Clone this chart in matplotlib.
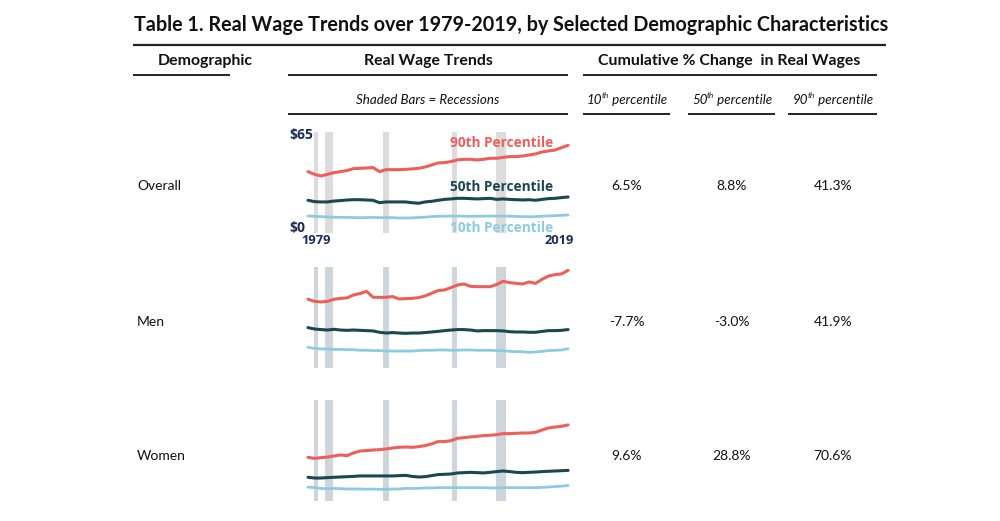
import matplotlib
matplotlib.use("Agg")
import matplotlib.pyplot as plt
import numpy as np

# ---------------- data ----------------
years = list(range(1979, 2020))

overall_p90 = [38.9, 37.1, 36.0, 37.1, 38.2, 38.9, 39.6, 40.9, 41.1, 41.3, 41.6,
               38.9, 40.2, 40.2, 40.2, 40.4, 40.7, 41.1, 42.0, 43.3, 44.7,
               44.9, 45.6, 46.7, 47.1, 47.1, 46.7, 47.1, 47.8, 47.8, 48.4,
               48.9, 48.9, 49.3, 50.0, 50.7, 52.0, 52.7, 53.3, 54.9, 56.4]
overall_p50 = [19.8, 18.9, 18.7, 18.7, 19.3, 19.6, 20.0, 20.2, 20.2, 20.0, 19.8,
               18.2, 18.7, 18.7, 18.7, 18.7, 18.2, 17.8, 18.7, 19.1, 19.8,
               20.4, 20.7, 21.1, 21.1, 20.9, 20.7, 20.9, 21.1, 20.4, 20.7,
               20.4, 20.2, 20.0, 20.2, 19.8, 20.4, 20.9, 21.1, 21.6, 22.0]
overall_p10 = [9.3, 9.1, 8.9, 8.7, 8.5, 8.4, 8.4, 8.3, 8.2, 8.3, 8.4,
               8.2, 8.3, 8.2, 8.0, 8.0, 8.1, 8.3, 8.6, 8.9, 9.1,
               9.2, 9.3, 9.3, 9.2, 9.1, 9.2, 9.2, 9.3, 9.2, 9.3,
               9.2, 9.0, 8.9, 8.8, 8.9, 9.2, 9.4, 9.6, 9.8, 10.0]

men_p90 = [43.8, 42.4, 42.0, 42.4, 43.8, 44.4, 44.7, 46.7, 47.6, 49.1, 45.1,
           45.1, 45.1, 45.6, 44.0, 44.2, 44.4, 44.9, 46.0, 47.8, 49.6,
           50.0, 51.6, 53.3, 54.0, 52.4, 52.2, 52.2, 52.2, 53.6, 55.8,
           54.9, 54.4, 54.0, 55.3, 54.4, 57.1, 59.3, 60.2, 60.7, 63.1]
men_p50 = [24.9, 24.0, 23.6, 23.3, 23.8, 23.3, 23.1, 23.3, 23.1, 22.9, 22.7,
           21.8, 21.3, 21.6, 21.3, 21.1, 21.3, 21.3, 21.6, 22.0, 22.4,
           22.9, 23.3, 23.6, 23.6, 23.3, 22.7, 22.9, 22.9, 22.9, 22.7,
           22.2, 22.0, 22.0, 21.8, 21.8, 22.4, 22.9, 22.9, 23.1, 23.6]
men_p10 = [11.8, 11.1, 10.7, 10.7, 10.4, 10.4, 10.2, 10.2, 9.8, 9.8, 9.6,
           9.6, 9.3, 9.3, 9.3, 9.3, 9.3, 9.6, 9.8, 9.8, 10.0,
           10.0, 9.8, 9.8, 10.0, 10.0, 9.8, 9.8, 9.8, 9.6, 9.6,
           9.1, 8.9, 8.9, 8.4, 8.7, 9.1, 9.6, 9.8, 10.0, 10.9]

women_p90 = [27.1, 26.4, 26.9, 27.3, 28.0, 28.7, 28.2, 30.0, 31.3, 31.6, 32.0,
             32.2, 32.7, 33.3, 33.8, 34.0, 33.8, 34.2, 34.9, 36.0, 37.6,
             37.6, 38.2, 39.8, 40.2, 40.7, 41.1, 41.6, 41.8, 42.2, 42.9,
             42.9, 43.1, 43.3, 43.3, 43.8, 45.3, 46.7, 47.3, 47.8, 48.7]
women_p50 = [13.8, 13.3, 13.3, 13.6, 13.8, 14.0, 14.2, 14.4, 14.7, 14.7, 14.7,
             14.7, 14.7, 14.7, 14.9, 15.1, 14.4, 14.0, 14.2, 14.9, 15.6,
             15.8, 16.0, 16.7, 16.9, 17.1, 16.9, 16.7, 17.1, 17.6, 18.0,
             17.6, 17.1, 16.9, 17.1, 17.3, 17.6, 17.8, 18.0, 18.2, 18.4]
women_p10 = [7.3, 6.9, 6.4, 6.2, 6.4, 6.2, 6.0, 6.0, 6.0, 5.8, 6.0,
             5.8, 5.8, 6.0, 6.0, 6.4, 6.4, 6.4, 6.7, 6.7, 6.9,
             6.9, 6.9, 6.9, 6.9, 6.9, 6.9, 6.9, 6.7, 6.7, 6.9,
             6.9, 6.9, 6.9, 6.9, 6.9, 7.1, 7.3, 7.6, 7.9, 8.4]

recessions = [(1979.85, 1980.5), (1981.55, 1982.85), (1990.55, 1991.45),
              (2001.1, 2001.95), (2007.9, 2009.45)]

demographics = ["Overall", "Men", "Women"]
pct_p10 = ["6.5%", "-7.7%", "9.6%"]
pct_p50 = ["8.8%", "-3.0%", "28.8%"]
pct_p90 = ["41.3%", "41.9%", "70.6%"]
series = [(overall_p90, overall_p50, overall_p10),
          (men_p90, men_p50, men_p10),
          (women_p90, women_p50, women_p10)]

# ---------------- style ----------------
RED = "#ee5f5b"
TEAL = "#1b4752"
LBLUE = "#8dcbe2"
NAVY = "#1c2b57"
HFONT = ["Lato", "DejaVu Sans"]
BFONT = ["Lato", "DejaVu Sans"]
LFONT = ["Open Sans", "DejaVu Sans"]

W, H = 1000, 521
fig = plt.figure(figsize=(W / 100, H / 100), dpi=100)
bg = fig.add_axes([0, 0, 1, 1])
bg.set_xlim(0, W)
bg.set_ylim(H, 0)
bg.axis("off")

# title
bg.text(511, 25, "Table 1. Real Wage Trends over 1979-2019, by Selected Demographic Characteristics",
        ha="center", va="center", fontsize=14.2, fontweight="bold", family=HFONT, color="#111111")
bg.plot([133, 886], [45, 45], color="#222222", lw=1.6, solid_capstyle="butt")

# headers
HFS = 11.4
bg.text(205, 61, "Demographic", ha="center", va="center", fontsize=HFS, fontweight="bold", family=HFONT, color="#111111")
bg.text(428, 61, "Real Wage Trends", ha="center", va="center", fontsize=HFS, fontweight="bold", family=HFONT, color="#111111")
bg.text(729, 61, "Cumulative % Change  in Real Wages", ha="center", va="center", fontsize=HFS, fontweight="bold", family=HFONT, color="#111111")
for x0, x1 in [(133, 230), (288, 568), (583, 877)]:
    bg.plot([x0, x1], [74.5, 74.5], color="#222222", lw=1.4, solid_capstyle="butt")

bg.text(428, 100, "Shaded Bars = Recessions", ha="center", va="center", fontsize=9.6, style="italic", family=BFONT, color="#111111")
for x0, x1 in [(288, 568), (583, 670), (688, 775), (788, 877)]:
    bg.plot([x0, x1], [113.5, 113.5], color="#222222", lw=1.4, solid_capstyle="butt")

fig.canvas.draw()
renderer = fig.canvas.get_renderer()


def sup_label(xc, y, base, sup, rest, fs=9.6):
    t1 = bg.text(0, y, base, ha="left", va="center", fontsize=fs, style="italic", family=BFONT, color="#111111")
    t2 = bg.text(0, y - 4, sup, ha="left", va="center", fontsize=fs * 0.62, style="italic", family=BFONT, color="#111111")
    t3 = bg.text(0, y, rest, ha="left", va="center", fontsize=fs, style="italic", family=BFONT, color="#111111")
    w1 = t1.get_window_extent(renderer).width
    w2 = t2.get_window_extent(renderer).width
    w3 = t3.get_window_extent(renderer).width
    total = w1 + w2 + w3 - 1
    x = xc - total / 2
    t1.set_x(x)
    t2.set_x(x + w1 - 0.5)
    t3.set_x(x + w1 + w2 - 1)


sup_label(627, 100, "10", "th", " percentile")
sup_label(732, 100, "50", "th", " percentile")
sup_label(833, 100, "90", "th", " percentile")

# rows
row_text_y = [186, 322, 456]
axes_top = [132, 267, 400]
axes_h = 101
col_x = [627, 732, 833]
for i, name in enumerate(demographics):
    y = row_text_y[i]
    bg.text(137, y, name, ha="left", va="center", fontsize=10, family=BFONT, color="#111111")
    for cx, val in zip(col_x, [pct_p10[i], pct_p50[i], pct_p90[i]]):
        bg.text(cx, y, val, ha="center", va="center", fontsize=10, family=BFONT, color="#111111")

    ax = fig.add_axes([300 / W, 1 - (axes_top[i] + axes_h) / H, 272 / W, axes_h / H])
    ax.set_xlim(1977.77, 2019.6)
    ax.set_ylim(-2, 65.3)
    ax.axis("off")
    bar_col = "#dcdcdc" if i == 0 else "#cfd6db"
    for a, b in recessions:
        ax.axvspan(a, b, color=bar_col, lw=0, zorder=0)
    p90, p50, p10 = series[i]
    ax.plot(years, p90, color=RED, lw=2.2, zorder=3, solid_capstyle="round")
    ax.plot(years, p50, color=TEAL, lw=2.2, zorder=3, solid_capstyle="round")
    ax.plot(years, p10, color=LBLUE, lw=2.0, zorder=3, solid_capstyle="round")

# overlay for sparkline annotations (first row), drawn above the sparklines
ov = fig.add_axes([0, 0, 1, 1])
ov.set_xlim(0, W)
ov.set_ylim(H, 0)
ov.axis("off")
ov.patch.set_alpha(0)
ov.text(289, 135, "$65", ha="left", va="center", fontsize=10, fontweight="bold", family=LFONT, color=NAVY)
ov.text(289, 228, "$0", ha="left", va="center", fontsize=10, fontweight="bold", family=LFONT, color=NAVY)
ov.text(316, 240, "1979", ha="center", va="center", fontsize=9.3, fontweight="bold", family=LFONT, color=NAVY)
ov.text(559, 240, "2019", ha="center", va="center", fontsize=9.3, fontweight="bold", family=LFONT, color=NAVY)
ov.text(502, 143, "90th Percentile", ha="center", va="center", fontsize=9.8, fontweight="bold", family=LFONT, color=RED)
ov.text(502, 187, "50th Percentile", ha="center", va="center", fontsize=9.8, fontweight="bold", family=LFONT, color=TEAL)
ov.text(502, 228, "10th Percentile", ha="center", va="center", fontsize=9.8, fontweight="bold", family=LFONT, color=LBLUE)

fig.savefig("out.png", dpi=100)
